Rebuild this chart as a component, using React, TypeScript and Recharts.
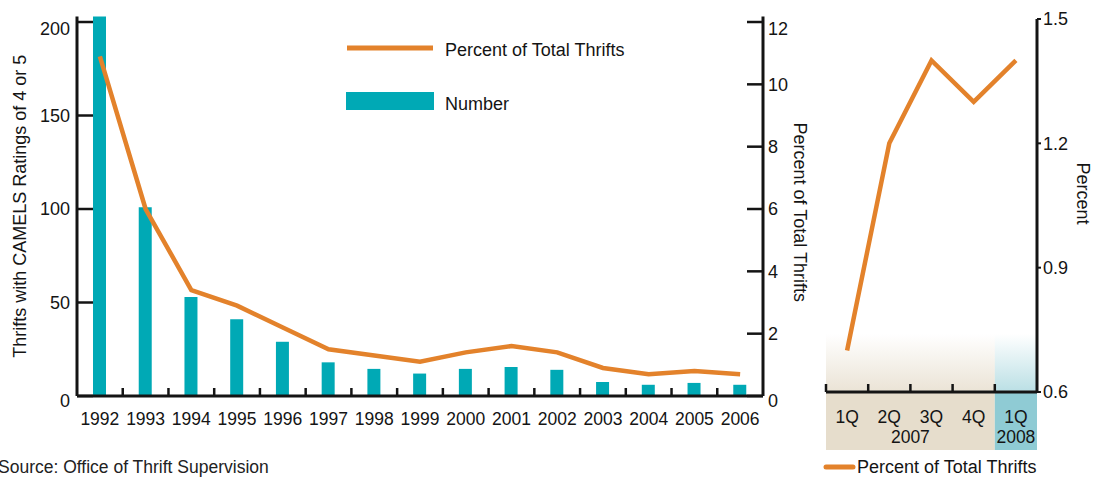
import React from "react";
import { ComposedChart, LineChart, Bar, Line, XAxis, YAxis, ReferenceArea } from "recharts";

// annual series, 1992-2006
const years = ["1992", "1993", "1994", "1995", "1996", "1997", "1998", "1999", "2000", "2001", "2002", "2003", "2004", "2005", "2006"];
const thriftCount = [203, 101, 53, 41, 29, 18, 14.5, 12, 14.5, 15.5, 14, 7.5, 6, 7, 6];
const thriftPercent = [10.9, 6.0, 3.4, 2.9, 2.2, 1.5, 1.3, 1.1, 1.4, 1.6, 1.4, 0.9, 0.7, 0.8, 0.7];
const countTicks = [0, 50, 100, 150, 200];
const percentTicks = [0, 2, 4, 6, 8, 10, 12];

// quarterly series, 2007-2008
const quarters = ["1Q", "2Q", "3Q", "4Q", "1Q"];
const quarterYears = ["2007", "2007", "2007", "2007", "2008"];
const quarterPercent = [0.7, 1.2, 1.4, 1.3, 1.4];
const recentTicks = [0.6, 0.9, 1.2, 1.5];

const ORANGE = "#e3822b";
const TEAL = "#00a9b5";
const BEIGE = "#e6ddcc";
const LIGHT_TEAL = "#8fcbd4";
const INK = "#141414";
const FONT = "'Liberation Sans', Arial, sans-serif";

const countMax = Math.max(200, ...thriftCount);
const percentMax = (12 * countMax) / 200;

const annualData = years.map((year, i) => ({ year, count: thriftCount[i], percent: thriftPercent[i] }));
const recentData = quarters.map((q, i) => ({
  period: `${q} ${quarterYears[i]}`,
  quarter: q,
  year: quarterYears[i],
  percent: quarterPercent[i],
}));

// band behind the quarterly axis (in percent units, reaches below the axis)
const shadeFloor = 0.46;
const shadeTop = 0.74;

const sideTitle = (text: string, angle: number, dx: number, dy = 0) => (props: any) => {
  const vb = props.viewBox;
  const cx = vb.x + vb.width / 2 + dx;
  const cy = vb.y + vb.height / 2 + dy;
  return (
    <text
      x={cx}
      y={cy}
      transform={`rotate(${angle} ${cx} ${cy})`}
      textAnchor="middle"
      dominantBaseline="central"
      fontSize={18}
      fontFamily={FONT}
      fill={INK}
    >
      {text}
    </text>
  );
};

// end labels sit just below their tick, as in the print original
const ValueTick = (props: any) => {
  const { x, y, payload, textAnchor, top, bottom } = props;
  const shift = payload.value === top ? 7 : payload.value === bottom ? 5 : 0;
  return (
    <text x={x} y={y + shift} dy="0.35em" textAnchor={textAnchor} fontSize={18} fontFamily={FONT} fill={INK}>
      {payload.value}
    </text>
  );
};

const YearTick = (props: any) => {
  const { x, y, payload } = props;
  const half = payload.offset ?? 0;
  const isLast = payload.value === years[years.length - 1];
  return (
    <g>
      {!isLast && <line x1={x + half} x2={x + half} y1={y} y2={y - 8} stroke={INK} strokeWidth={2.5} />}
      <text x={x} y={y + 29} textAnchor="middle" fontSize={17.5} fontFamily={FONT} fill={INK}>
        {payload.value}
      </text>
    </g>
  );
};

const QuarterTick = (props: any) => {
  const { x, y, payload } = props;
  const half = payload.offset ?? 0;
  const row = recentData.find((d) => d.period === payload.value);
  if (!row) return null;
  const group = recentData.filter((d) => d.year === row.year);
  const isFirst = group[0].period === row.period;
  return (
    <g>
      <line x1={x - half} x2={x - half} y1={y} y2={y - 8} stroke={INK} strokeWidth={2.5} />
      <text x={x} y={y + 31} textAnchor="middle" fontSize={17.5} fontFamily={FONT} fill={INK}>
        {row.quarter}
      </text>
      {isFirst && (
        <text x={x + (group.length - 1) * half} y={y + 51} textAnchor="middle" fontSize={17.5} fontFamily={FONT} fill={INK}>
          {row.year}
        </text>
      )}
    </g>
  );
};

const tickText = { fill: INK, fontSize: 18, fontFamily: FONT };
const axisLine = { stroke: INK, strokeWidth: 3 };
const tickLine = { stroke: INK, strokeWidth: 2.5 };

export default function App() {
  return (
    <div style={{ position: "absolute", left: 0, top: 0, width: 1094, height: 477, background: "#fff", overflow: "hidden" }}>
      <div style={{ position: "absolute", left: 0, top: 0 }}>
        <ComposedChart width={830} height={477} data={annualData} margin={{ top: 16.4, right: 7, bottom: 51, left: 7 }}>
          <XAxis
            dataKey="year"
            height={30}
            interval={0}
            tickSize={0}
            tickMargin={0}
            tickLine={false}
            axisLine={axisLine}
            tick={<YearTick />}
          />
          <YAxis
            yAxisId="count"
            orientation="left"
            width={70}
            domain={[0, countMax]}
            ticks={countTicks}
            tickSize={-16}
            tickMargin={23}
            axisLine={axisLine}
            tickLine={tickLine}
            tick={<ValueTick top={200} bottom={0} />}
            label={sideTitle("Thrifts with CAMELS Ratings of 4 or 5", -90, -22)}
          />
          <YAxis
            yAxisId="pct"
            orientation="right"
            width={60}
            domain={[0, percentMax]}
            ticks={percentTicks}
            tickSize={-16}
            tickMargin={21}
            axisLine={axisLine}
            tickLine={tickLine}
            tick={<ValueTick top={12} bottom={0} />}
            label={sideTitle("Percent of Total Thrifts", 90, 7, 6)}
          />
          <Bar yAxisId="count" dataKey="count" fill={TEAL} barSize={13} isAnimationActive={false} />
          <Line
            yAxisId="pct"
            dataKey="percent"
            stroke={ORANGE}
            strokeWidth={4.5}
            dot={false}
            type="linear"
            isAnimationActive={false}
          />
        </ComposedChart>
      </div>

      <div style={{ position: "absolute", left: 780, top: 0 }}>
        <LineChart width={314} height={477} data={recentData} margin={{ top: 19, right: 7, bottom: 27, left: 46 }}>
          <defs>
            <linearGradient id="shade2007" x1="0" y1="0" x2="0" y2="1">
              <stop offset="0" stopColor={BEIGE} stopOpacity={0} />
              <stop offset="0.49" stopColor={BEIGE} stopOpacity={0.8} />
              <stop offset="0.5" stopColor={BEIGE} stopOpacity={1} />
              <stop offset="1" stopColor={BEIGE} stopOpacity={1} />
            </linearGradient>
            <linearGradient id="shade2008" x1="0" y1="0" x2="0" y2="1">
              <stop offset="0" stopColor={LIGHT_TEAL} stopOpacity={0} />
              <stop offset="0.49" stopColor={LIGHT_TEAL} stopOpacity={0.6} />
              <stop offset="0.5" stopColor={LIGHT_TEAL} stopOpacity={1} />
              <stop offset="1" stopColor={LIGHT_TEAL} stopOpacity={1} />
            </linearGradient>
          </defs>
          <ReferenceArea
            x1={recentData[0].period}
            x2={recentData[3].period}
            y1={shadeFloor}
            y2={shadeTop}
            ifOverflow="visible"
            fill="url(#shade2007)"
            fillOpacity={1}
            stroke="none"
          />
          <ReferenceArea
            x1={recentData[4].period}
            x2={recentData[4].period}
            y1={shadeFloor}
            y2={shadeTop}
            ifOverflow="visible"
            fill="url(#shade2008)"
            fillOpacity={1}
            stroke="none"
          />
          <XAxis
            dataKey="period"
            scale="band"
            height={58}
            interval={0}
            tickSize={0}
            tickMargin={0}
            tickLine={false}
            axisLine={axisLine}
            tick={<QuarterTick />}
          />
          <YAxis
            orientation="right"
            width={50}
            domain={[0.6, 1.5]}
            ticks={recentTicks}
            tickSize={4}
            tickMargin={2}
            tickFormatter={(v: number) => v.toFixed(1)}
            axisLine={axisLine}
            tickLine={{ stroke: INK, strokeWidth: 2 }}
            tick={tickText}
            label={sideTitle("Percent", 90, 21, -12)}
          />
          <Line dataKey="percent" stroke={ORANGE} strokeWidth={4.5} dot={false} type="linear" isAnimationActive={false} />
        </LineChart>
      </div>

      <svg width={1094} height={477} style={{ position: "absolute", left: 0, top: 0, pointerEvents: "none" }}>
        <line x1={347} x2={433} y1={48} y2={48} stroke={ORANGE} strokeWidth={5} />
        <text x={445} y={56} fontSize={18} fontFamily={FONT} fill={INK}>Percent of Total Thrifts</text>
        <rect x={346} y={92} width={88} height={18} fill={TEAL} />
        <text x={445} y={110} fontSize={18} fontFamily={FONT} fill={INK}>Number</text>

        <line x1={826} x2={853} y1={467} y2={467} stroke={ORANGE} strokeWidth={5} strokeLinecap="round" />
        <text x={857} y={473} fontSize={18} fontFamily={FONT} fill={INK}>Percent of Total Thrifts</text>

        <text x={-2} y={473} fontSize={17.5} fontFamily={FONT} fill="#222">Source: Office of Thrift Supervision</text>
      </svg>
    </div>
  );
}
